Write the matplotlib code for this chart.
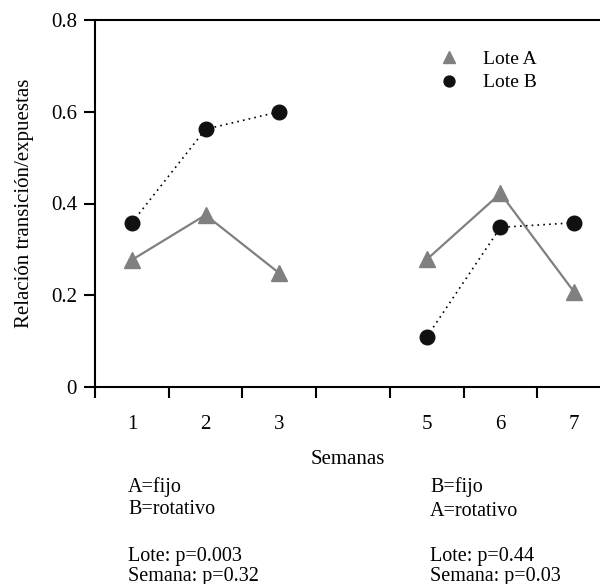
import matplotlib
matplotlib.use('Agg')
import matplotlib.pyplot as plt

plt.rcParams['font.family'] = ['Liberation Serif', 'DejaVu Serif']

# Semanas (two periods, week 4 missing)
weeks_p1 = [1, 2, 3]
weeks_p2 = [5, 6, 7]
lote_a_p1 = [0.277, 0.375, 0.248]
lote_b_p1 = [0.358, 0.562, 0.600]
lote_a_p2 = [0.278, 0.422, 0.207]
lote_b_p2 = [0.109, 0.348, 0.358]

tick_bounds = [0.5, 1.5, 2.5, 3.5, 4.5, 5.5, 6.5]
label_pos = [1, 2, 3, 5, 6, 7]
label_txt = ['1', '2', '3', '5', '6', '7']
y_ticks = [0, 0.2, 0.4, 0.6, 0.8]
y_labels = ['0', '0.2', '0.4', '0.6', '0.8']

fig = plt.figure(figsize=(6, 5.84), dpi=100)
ax = fig.add_axes([95/600, 1 - 387/584, 1 - 95/600, 367/584])

gray = '#808080'
for wk, a, b in [(weeks_p1, lote_a_p1, lote_b_p1), (weeks_p2, lote_a_p2, lote_b_p2)]:
    ax.plot(wk, a, color=gray, lw=1.6, marker='^', ms=11, mfc=gray, mec=gray,
            label='Lote A' if wk[0] == 1 else None)
    ax.plot(wk, b, color='black', lw=1.2, ls=(0, (1, 2.5)), marker='o', ms=10.5,
            mfc='#111111', mec='#111111',
            label='Lote B' if wk[0] == 1 else None)

ax.set_xlim(0.5, 7.35)
ax.set_ylim(0, 0.8)
ax.spines['right'].set_visible(False)
for s in ['left', 'bottom', 'top']:
    ax.spines[s].set_linewidth(1.5)

ax.set_xticks(tick_bounds)
ax.set_xticklabels([])
ax.set_xticks(label_pos, minor=True)
ax.set_xticklabels(label_txt, minor=True)
ax.tick_params(axis='x', which='major', direction='out', length=8, width=1.5)
ax.tick_params(axis='x', which='minor', length=0, pad=20, labelsize=15)
ax.set_yticks(y_ticks)
ax.set_yticklabels(y_labels)
ax.tick_params(axis='y', direction='out', length=8, width=1.5, labelsize=15, pad=5)

ax.set_xlabel('Semanas', fontsize=15, labelpad=12)
ax.set_ylabel('Relación transición/expuestas', fontsize=15, labelpad=12)

leg = ax.legend(loc='upper left', bbox_to_anchor=(0.648, 0.965), frameon=False,
                fontsize=14, handlelength=1.0, handletextpad=1.2,
                labelspacing=0.3, markerscale=0.75)
for h in leg.legend_handles:
    h.set_linestyle('none')

# notes under the chart
left_notes = [('A=fijo', 487), ('B=rotativo', 510), ('Lote: p=0.003', 557), ('Semana: p=0.32', 576)]
right_notes = [('B=fijo', 487), ('A=rotativo', 512), ('Lote: p=0.44', 557), ('Semana: p=0.03', 576)]
for txt, y in left_notes:
    fig.text(128/600, 1 - y/584, txt, fontsize=14.5, ha='left', va='center')
for txt, y in right_notes:
    fig.text(430/600, 1 - y/584, txt, fontsize=14.5, ha='left', va='center')

fig.savefig('out.png', dpi=100)
